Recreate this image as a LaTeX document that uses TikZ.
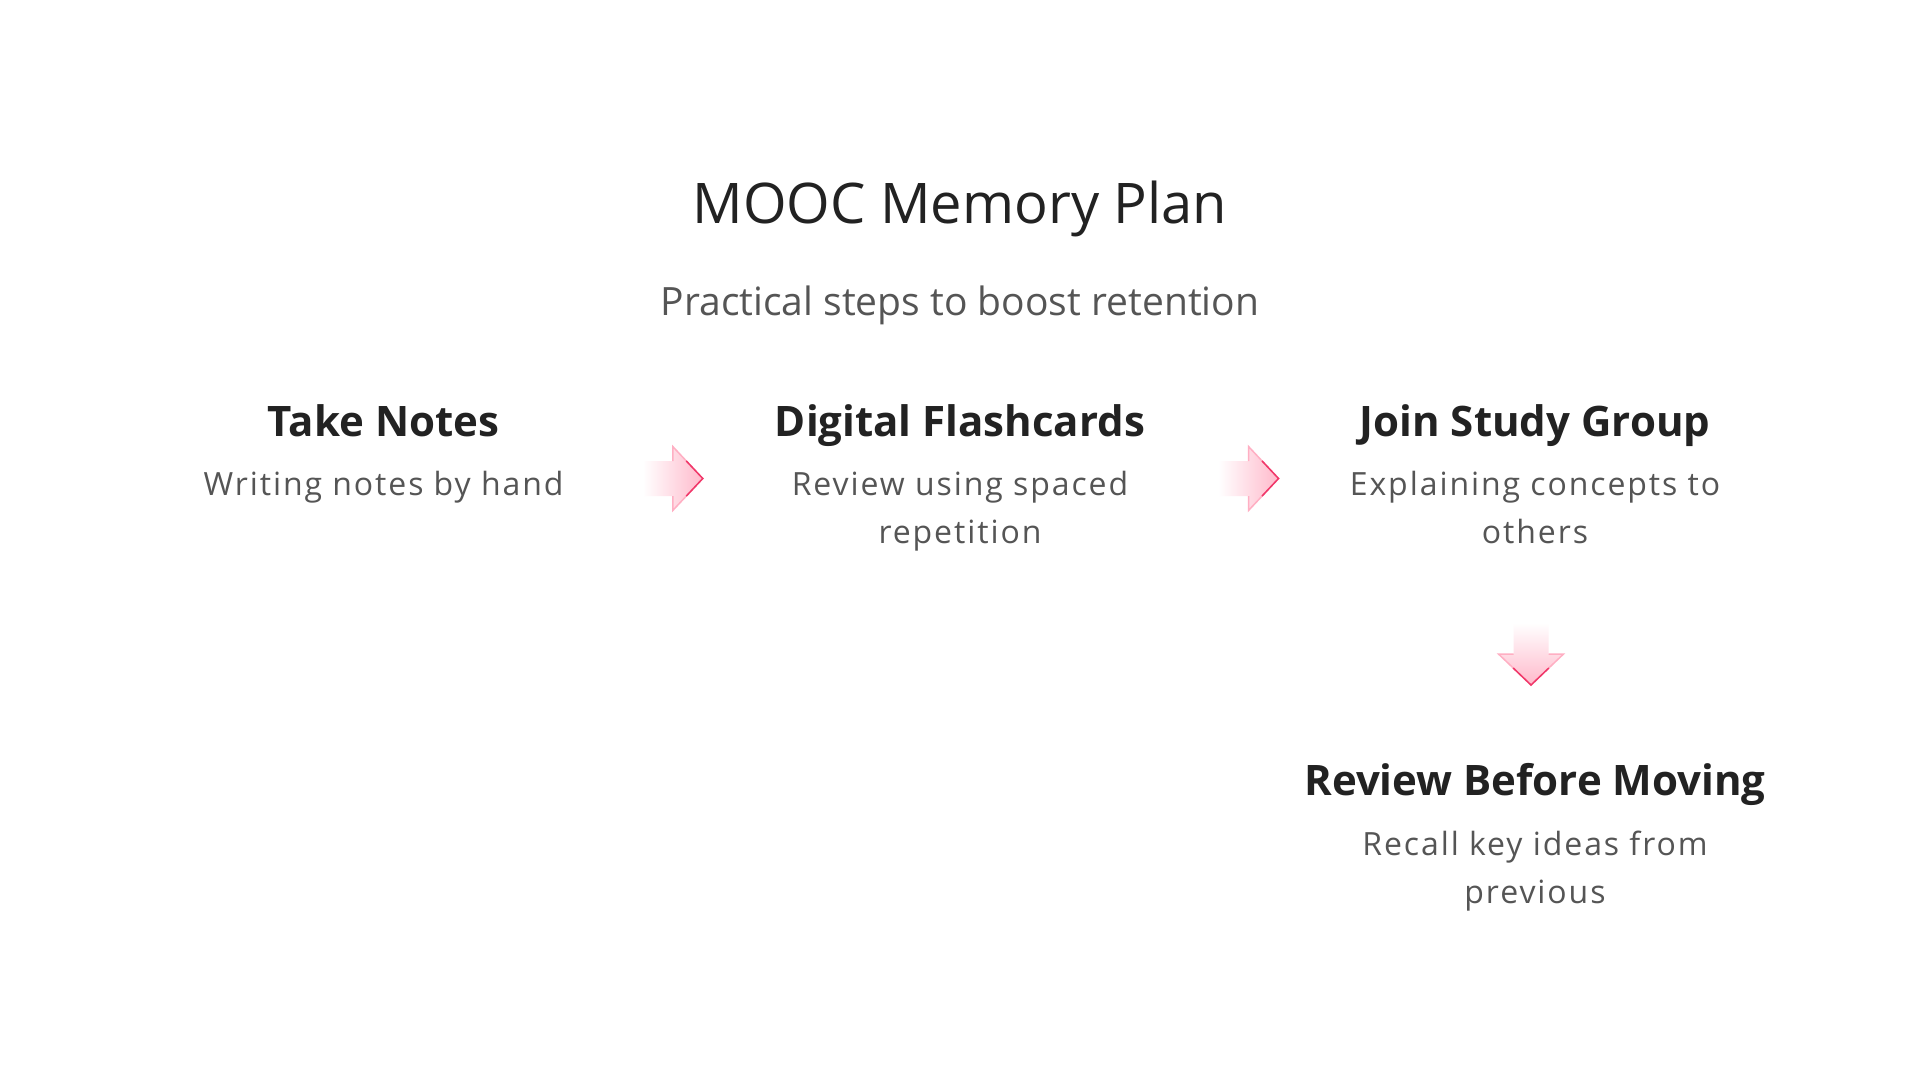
\documentclass[tikz,border=0pt]{standalone}
\usepackage{fontspec}
\setmainfont{Open Sans}
\newfontfamily\descfont[LetterSpace=6]{Open Sans}
\usetikzlibrary{calc}
\definecolor{inkdark}{RGB}{34,34,34}
\definecolor{inkgray}{RGB}{85,85,85}
\definecolor{pinkfill}{RGB}{255,185,203}
\definecolor{pinkedge}{RGB}{255,175,195}
\definecolor{pinkmid}{RGB}{255,130,162}
\definecolor{pinkdeep}{RGB}{240,55,105}
% block arrow pointing right, centred on the origin
\def \arrowR {(-30,-17.5) -- (0,-17.5) -- (0,-32) -- (30,0) -- (0,32) -- (0,17.5) -- (-30,17.5) -- cycle}
% block arrow pointing down, centred on the origin
\def \arrowD {(-17.5,-31) -- (17.5,-31) -- (17.5,0) -- (32.5,0) -- (0,31) -- (-32.5,0) -- (-17.5,0) -- cycle}
\tikzset{
  plantitle/.style={anchor=base, inner sep=0, text=inkdark, font=\fontsize{56}{66}\selectfont},
  plansub/.style={anchor=base, inner sep=0, text=inkgray, font=\fontsize{39}{47}\selectfont},
  stephead/.style={anchor=base, inner sep=0, text=inkdark, font=\bfseries\fontsize{42}{50}\selectfont},
  stepdesc/.style={anchor=base, inner sep=0, align=center, text=inkgray, font=\descfont\fontsize{32}{48}\selectfont},
  arrowedge/.style={draw=pinkedge, line width=1.5pt},
  arrowtip/.style={draw=pinkdeep, line width=1.5pt, line join=miter}
}

\begin{document}
\begin{tikzpicture}[x=1pt,y=-1pt]
\fill[white] (0,0) rectangle (1920,1080);
\useasboundingbox (0,0) rectangle (1920,1080);

% Title and subtitle
\node[plantitle] (title) at (960,223) {MOOC Memory Plan};
\node[plansub] (sub) at (960,315) {Practical steps to boost retention};

% The four steps (base of a two-line text is its last line)
\node[stephead] (tnotes) at (383.5,436) {Take Notes};
\node[stepdesc] (tnotesd) at (383.5,495) {Writing notes by hand};
\node[stephead] (flash) at (960,436) {Digital Flashcards};
\node[stepdesc] (flashd) at (960,543) {Review using spaced\\repetition};
\node[stephead] (group) at (1535,436) {Join Study Group};
\node[stepdesc] (groupd) at (1535,543) {Explaining concepts to\\others};
\node[stephead] (review) at (1535,795) {Review Before Moving};
\node[stepdesc] (reviewd) at (1535,903) {Recall key ideas from\\previous};

% Draw the right arrows between the columns
\foreach \from/\to in {tnotes/flash, flash/group}
{
\begin{scope}[shift={($(\from.base)!0.5!(\to.base)+(1,42.5)$)}]
\shade[left color=white, right color=pinkfill] \arrowR;
\draw[arrowedge] (0,-17.5) -- (0,-32) -- (30,0) -- (0,32) -- (0,17.5);
\draw[arrowtip] ($(0,-32)!0.45!(30,0)$) -- (30,0) -- ($(0,32)!0.45!(30,0)$);
\end{scope}
}

% Draw the down arrow
\begin{scope}[shift={($(group.base)!0.5!(review.base)+(-4,38.5)$)}]
\shade[top color=white, bottom color=pinkfill] \arrowD;
\draw[arrowedge] (-17.5,0) -- (-32.5,0) -- (0,31) -- (32.5,0) -- (17.5,0);
\draw[arrowtip] ($(-32.5,0)!0.45!(0,31)$) -- (0,31) -- ($(32.5,0)!0.45!(0,31)$);
\end{scope}
\end{tikzpicture}
\end{document}
